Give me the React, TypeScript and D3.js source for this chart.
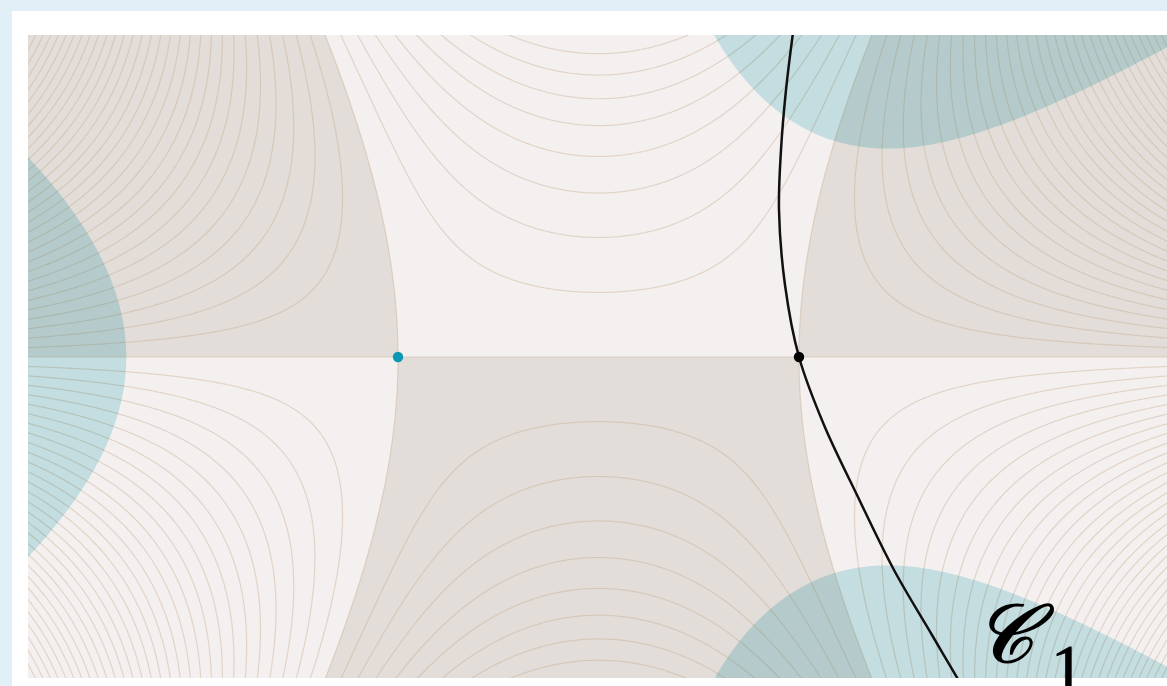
import React, { useMemo } from "react";
import * as d3 from "d3";

// ---- data ----
// phase function phi(z) = z^3/3 - z ; saddle points on the real axis
const saddlePoints = [
  { re: -1, im: 0, color: "#0b98b4" },
  { re: 1, im: 0, color: "#000000" },
];
// level step of Im(phi) contour lines
const levelStep = 1 / 3;
const levelRange = [-12, 12];
// Re(phi) threshold for the shaded valleys
const valleyThreshold = -2;
// contour C1 (pixel positions)
const curvePx = [
  [794, 25], [786, 90], [781, 150], [779, 210], [785, 285], [799, 357],
  [824, 425], [857, 495], [894, 570], [932, 635], [962, 686],
];
const labelMain = "𝒞";
const labelSub = "1";

const W = 1167;
const H = 686;
const plot = { x0: 28, y0: 35, x1: 1167, y1: 678 };

const xScale = d3.scaleLinear().domain([-1, 1]).range([398, 799]);
const yScale = d3.scaleLinear().domain([0, 1]).range([357, 156.5]);

function imPhi(x: number, y: number) {
  return x * x * y - (y * y * y) / 3 - y;
}
function rePhi(x: number, y: number) {
  return (x * x * x) / 3 - x * y * y - x;
}

export default function App() {
  const { imContours, signRegion, valley } = useMemo(() => {
    const step = 2;
    const gx0 = 10, gy0 = 20, gx1 = 1190, gy1 = 700;
    const nx = Math.ceil((gx1 - gx0) / step);
    const ny = Math.ceil((gy1 - gy0) / step);
    const im = new Float64Array(nx * ny);
    const re = new Float64Array(nx * ny);
    for (let j = 0; j < ny; j++) {
      const py = gy0 + (j + 0.5) * step;
      const y = yScale.invert(py);
      for (let i = 0; i < nx; i++) {
        const px = gx0 + (i + 0.5) * step;
        const x = xScale.invert(px);
        im[i + j * nx] = imPhi(x, y);
        re[i + j * nx] = -rePhi(x, y);
      }
    }
    const proj = d3.geoTransform({
      point(x: number, y: number) {
        (this as any).stream.point(gx0 + x * step, gy0 + y * step);
      },
    });
    const path = d3.geoPath(proj);
    const levels: number[] = [];
    for (let k = Math.round(levelRange[0] / levelStep); k <= Math.round(levelRange[1] / levelStep); k++) {
      levels.push(k * levelStep + 1e-9);
    }
    const c = d3.contours().size([nx, ny]);
    const imContours = c.thresholds(levels)(Array.from(im)).map((g) => path(g as any) || "");
    const signRegion = path(d3.contours().size([nx, ny]).thresholds([0])(Array.from(im))[0] as any) || "";
    const valley = path(d3.contours().size([nx, ny]).thresholds([-valleyThreshold])(Array.from(re))[0] as any) || "";
    return { imContours, signRegion, valley };
  }, []);

  const line = d3.line<number[]>().x((d) => d[0]).y((d) => d[1]).curve(d3.curveCatmullRom.alpha(0.5));

  return (
    <svg width={W} height={H} style={{ position: "absolute", left: 0, top: 0 }}>
      <defs>
        <clipPath id="plotClip">
          <rect x={plot.x0} y={plot.y0} width={plot.x1 - plot.x0} height={plot.y1 - plot.y0} />
        </clipPath>
      </defs>
      <rect x={0} y={0} width={W} height={H} fill="#e1eff7" />
      <rect x={12} y={11} width={W - 12} height={H - 11} fill="#ffffff" />
      <g clipPath="url(#plotClip)">
        <rect x={plot.x0} y={plot.y0} width={plot.x1 - plot.x0} height={plot.y1 - plot.y0} fill="#f4f0ef" />
        <path d={signRegion} fill="#e2ddd8" />
        <g fill="none" stroke="#c6a98c" strokeOpacity={0.4} strokeWidth={1.2}>
          {imContours.map((d, i) => (
            <path key={i} d={d} />
          ))}
        </g>
        <path d={valley} fill="#cdebf0" style={{ mixBlendMode: "multiply" }} />
        <path d={line(curvePx as any) || ""} fill="none" stroke="#111" strokeWidth={2.5} />
      </g>
      {saddlePoints.map((p, i) => (
        <circle key={i} cx={xScale(p.re)} cy={yScale(p.im)} r={5.2} fill={p.color} />
      ))}
      <text x={974} y={662} fontFamily="'DejaVu Serif', 'Liberation Serif', serif" fontSize={82} fontStyle="italic" fill="#000" stroke="#000" strokeWidth={1.6}>
        {labelMain}
      </text>
      <text x={1051} y={690} fontFamily="'Liberation Serif', 'Times New Roman', serif" fontSize={66} fill="#000" stroke="#000" strokeWidth={0.8}>
        {labelSub}
      </text>
    </svg>
  );
}
